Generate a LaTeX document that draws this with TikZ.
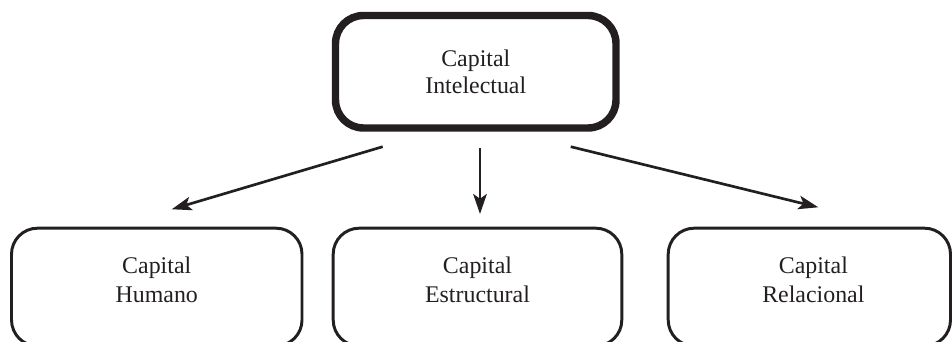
\documentclass[tikz,border=0pt]{standalone}
\usepackage{fontspec}
\setmainfont{Liberation Serif}
\usetikzlibrary{arrows.meta}
\definecolor{ink}{HTML}{231F20}
\tikzset{
  topbox/.style={draw=ink, line width=5.3pt, rounded corners=0.7cm, outer sep=0pt,
    minimum width=7.0125cm, minimum height=2.8125cm, align=center, text=ink,
    font=\fontsize{17}{19}\selectfont},
  capbox/.style={draw=ink, line width=2.1pt, rounded corners=0.65cm, outer sep=0pt,
    minimum height=2.945cm},
  captext/.style={align=center, text=ink, font=\fontsize{17}{20.9}\selectfont},
  arr/.style={draw=ink, line width=1.9pt, -{Stealth[length=0.5cm,width=0.34cm,inset=0.12cm]}}
}
\begin{document}
\begin{tikzpicture}
  \useasboundingbox (0,0) rectangle (23.8,8.55);
  \clip (0,0) rectangle (23.8,8.55);

  \node[topbox] (intelectual) at (11.894,6.756) {Capital\\Intelectual};

  \node[capbox, minimum width=7.2625cm] (humano) at (3.919,1.3725) {};
  \node[capbox, minimum width=7.215cm] (estructural) at (11.9375,1.3725) {};
  \node[capbox, minimum width=7.0575cm] (relacional) at (20.234,1.3725) {};

  \node[captext] (humanotxt) at ([yshift=-1.29cm]humano.north) {Capital\\Humano};
  \node[captext] (estructuraltxt) at ([yshift=-1.29cm]estructural.north) {Capital\\Estructural};
  \node[captext] (relacionaltxt) at ([xshift=0.1cm,yshift=-1.29cm]relacional.north) {Capital\\Relacional};

  \draw[arr] ([xshift=-2.326cm,yshift=-0.4675cm]intelectual.south) -- ([xshift=0.374cm,yshift=0.4725cm]humano.north);
  \draw[arr] ([xshift=0.106cm,yshift=-0.5cm]intelectual.south) -- ([xshift=0.0625cm,yshift=0.355cm]estructural.north);
  \draw[arr] ([xshift=2.374cm,yshift=-0.4675cm]intelectual.south) -- ([xshift=0.224cm,yshift=0.5225cm]relacional.north);
\end{tikzpicture}
\end{document}
